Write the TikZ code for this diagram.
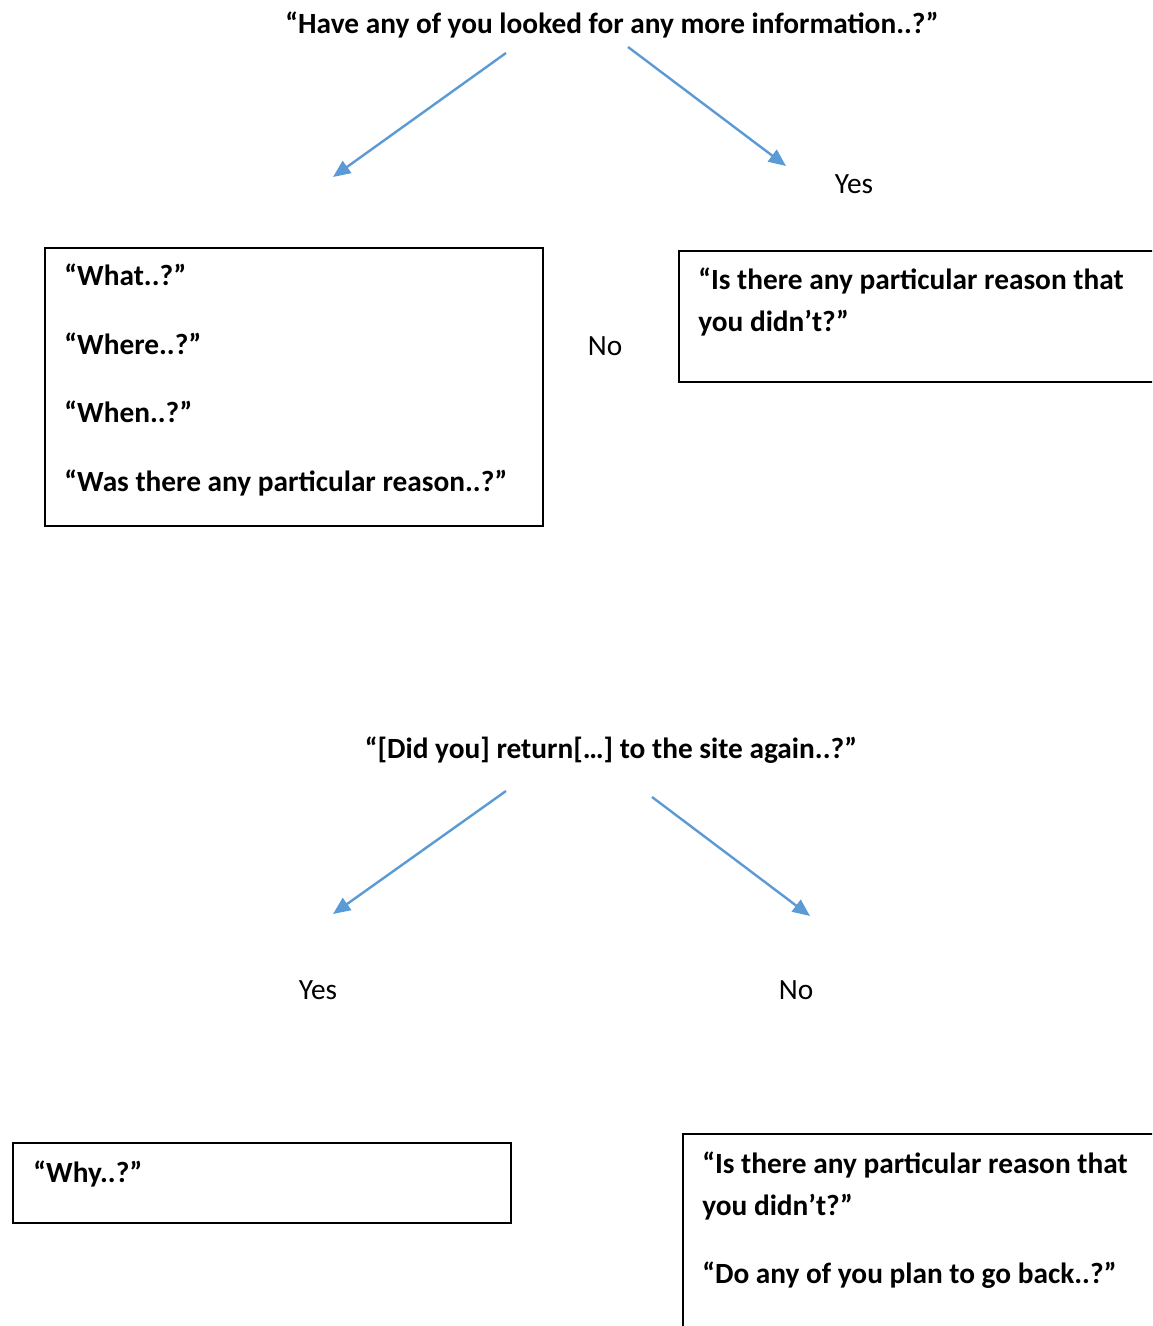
\documentclass[tikz,border=0pt]{standalone}
\usepackage{fontspec}
\setmainfont{Carlito}
\usetikzlibrary{arrows.meta}
\definecolor{flowblue}{HTML}{5B9BD5}
\begin{document}
\begin{tikzpicture}[x=0.75pt,y=-0.75pt,
  qtext/.style={font=\fontsize{22}{26}\selectfont\bfseries, inner sep=0pt, anchor=base west},
  qtitle/.style={font=\fontsize{22}{26}\selectfont\bfseries, inner sep=0pt, anchor=base},
  answer/.style={font=\fontsize{22}{26}\selectfont, inner sep=0pt, anchor=base},
  qbox/.style={draw=black, line width=1.5pt, inner sep=0pt, anchor=north west},
  branch/.style={draw=flowblue, line width=1.8pt, -{Triangle[length=13pt,width=11pt]}}]
\useasboundingbox (0,0) rectangle (1152,1326);
\clip (0,0) rectangle (1152,1326);

% first question and its two branches
\node[qtitle] (q1) at (612,34) {“Have any of you looked for any more information..?”};
\coordinate (q1l) at (506,53);
\coordinate (q1r) at (628,47);
\coordinate (noend) at (333,177);
\coordinate (yesend) at (786,166);
\draw[branch] (q1l) -- (noend);
\draw[branch] (q1r) -- (yesend);
\node[answer] (yes1) at (854,194) {Yes};
\node[answer] (no1) at (605,356) {No};

% follow-up boxes for the first question
\node[qbox, minimum width=498*0.75pt, minimum height=278*0.75pt] (boxA) at (44,247) {};
\node[qtext] (a1) at (64,286) {“What..?”};
\node[qtext] (a2) at (64,354) {“Where..?”};
\node[qtext] (a3) at (64,422) {“When..?”};
\node[qtext] (a4) at (64,491) {“Was there any particular reason..?”};

\node[qbox, minimum width=500*0.75pt, minimum height=131*0.75pt] (boxB) at (678,250) {};
\node[qtext] (b1) at (698,290) {“Is there any particular reason that};
\node[qtext] (b2) at (698,332) {you didn’t?”};

% second question and its two branches
\node[qtitle] (q2) at (611,758) {“[Did you] return[…] to the site again..?”};
\coordinate (q2l) at (506,791);
\coordinate (q2r) at (652,797);
\coordinate (yes2end) at (333,914);
\coordinate (no2end) at (810,916);
\draw[branch] (q2l) -- (yes2end);
\draw[branch] (q2r) -- (no2end);
\node[answer] (yes2) at (318,999) {Yes};
\node[answer] (no2) at (796,999) {No};

% follow-up boxes for the second question
\node[qbox, minimum width=498*0.75pt, minimum height=80*0.75pt] (boxC) at (12,1142) {};
\node[qtext] (c1) at (33,1182) {“Why..?”};

\node[qbox, minimum width=500*0.75pt, minimum height=250*0.75pt] (boxD) at (682,1133) {};
\node[qtext] (d1) at (702,1173) {“Is there any particular reason that};
\node[qtext] (d2) at (702,1215) {you didn’t?”};
\node[qtext] (d3) at (702,1283) {“Do any of you plan to go back..?”};
\end{tikzpicture}
\end{document}
